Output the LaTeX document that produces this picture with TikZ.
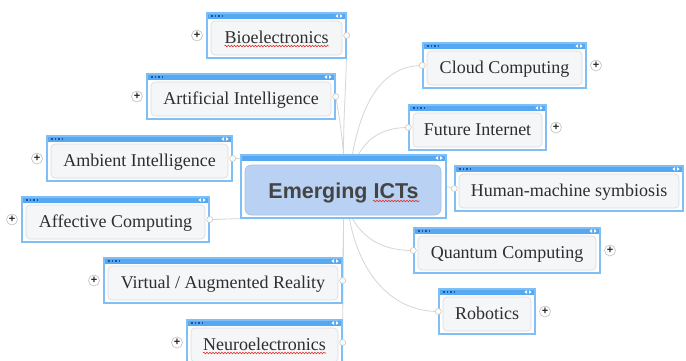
\documentclass[tikz,border=0pt]{standalone}
\usepackage{fontspec}
\setmainfont{Liberation Serif}
\setsansfont{Liberation Sans}
\usetikzlibrary{positioning,calc,backgrounds,decorations.pathmorphing}

\definecolor{framebl}{HTML}{80BFF6}
\definecolor{headbl}{HTML}{55A8F2}
\definecolor{dotbl}{HTML}{1B4FA8}
\definecolor{innerfill}{HTML}{F5F6F8}
\definecolor{innerdraw}{HTML}{DADBDF}
\definecolor{hubfill}{HTML}{B9D1F2}
\definecolor{hubdraw}{HTML}{A6C1EA}
\definecolor{textgray}{HTML}{2E2E2E}
\definecolor{hubtext}{HTML}{444444}
\definecolor{linkgray}{HTML}{D6D6D6}
\definecolor{spellred}{HTML}{E0302A}

\begin{document}
\begin{tikzpicture}[x=1pt, y=-1pt,
    topic/.style={rectangle, draw=framebl, line width=1.4pt, fill=white,
      minimum height=45pt, inner sep=0pt, text=textgray,
      font=\fontsize{18}{20}\selectfont, text height=16pt, text depth=1pt,
      path picture={
        \fill[headbl] (path picture bounding box.north west) rectangle ([yshift=-6pt]path picture bounding box.north east);
        \draw[line width=0.6pt, draw=innerdraw, fill=innerfill, rounded corners=4pt]
          ([shift={(4pt,-8pt)}]path picture bounding box.north west) rectangle ([shift={(-4pt,3pt)}]path picture bounding box.south east);
        \foreach \d in {4,7.5,11,14.5}
          \fill[dotbl] ([shift={(\d pt,-2pt)}]path picture bounding box.north west) rectangle +(1.6pt,-1.6pt);
        \fill[white] ([shift={(-8pt,-1.2pt)}]path picture bounding box.north east) -- ++(0pt,-3.6pt) -- ++(-2.6pt,1.8pt) -- cycle;
        \fill[white] ([shift={(-6pt,-1.2pt)}]path picture bounding box.north east) -- ++(0pt,-3.6pt) -- ++(2.6pt,1.8pt) -- cycle;
      }},
    hub/.style={rectangle, draw=framebl, line width=1.4pt, fill=white,
      minimum width=205pt, minimum height=63pt, inner sep=0pt, text=hubtext,
      font=\sffamily\bfseries\fontsize{21.5}{24}\selectfont, text height=24pt, text depth=0pt,
      path picture={
        \fill[headbl] (path picture bounding box.north west) rectangle ([yshift=-6pt]path picture bounding box.north east);
        \draw[line width=0.6pt, draw=hubdraw, fill=hubfill, rounded corners=6pt]
          ([shift={(4pt,-10pt)}]path picture bounding box.north west) rectangle ([shift={(-5pt,3pt)}]path picture bounding box.south east);
        \fill[white] ([shift={(-8pt,-1.2pt)}]path picture bounding box.north east) -- ++(0pt,-3.6pt) -- ++(-2.6pt,1.8pt) -- cycle;
        \fill[white] ([shift={(-6pt,-1.2pt)}]path picture bounding box.north east) -- ++(0pt,-3.6pt) -- ++(2.6pt,1.8pt) -- cycle;
      }},
    plusmark/.style={circle, draw=black!25, fill=white, line width=0.6pt, minimum size=11pt,
      inner sep=0pt, text=black!85, font=\sffamily\bfseries\fontsize{11}{11}\selectfont},
    linkdot/.style={circle, draw=black!22, fill=white, line width=0.6pt, minimum size=6pt,
      inner sep=0pt, anchor=center},
    leftside/.style={topic, label={[plusmark, label distance=3.5pt]west:+}, label={[linkdot]east:{}}},
    rightside/.style={topic, label={[plusmark, label distance=3.5pt]east:+}, label={[linkdot]west:{}}},
    link/.style={draw=linkgray, line width=0.8pt},
    squiggle/.style={draw=spellred, line width=0.6pt, decorate,
      decoration={snake, segment length=3pt, amplitude=0.8pt}}]

    \useasboundingbox (0,0) rectangle (686,360);

    % Central topic
    \node[hub] (hub) at (343.5,186.5) {Emerging ICTs};

    % Left branch
    \node[leftside, minimum width=139pt] (bio) at (276.5,35.5) {Bioelectronics};
    \node[leftside, minimum width=188pt] (ai) at (241,96.5) {Artificial Intelligence};
    \node[leftside, minimum width=185pt] (amb) at (139.5,158.5) {Ambient Intelligence};
    \node[leftside, minimum width=187pt] (aff) at (115.5,219.5) {Affective Computing};
    \node[leftside, minimum width=238pt] (vr) at (223,280.5) {Virtual / Augmented Reality};
    \node[leftside, minimum width=155pt] (neuro) at (264.5,342.5) {Neuroelectronics};

    % Right branch
    \node[rightside, minimum width=163pt] (cloud) at (504.5,65.5) {Cloud Computing};
    \node[rightside, minimum width=137pt] (fi) at (477.5,127.5) {Future Internet};
    \node[topic, minimum width=228pt, label={[plusmark, label distance=3.5pt]east:{}}, label={[linkdot]west:{}}] (hms) at (569,188.5) {Human-machine symbiosis};
    \node[rightside, minimum width=186pt] (qc) at (507,250.5) {Quantum Computing};
    \node[rightside, minimum width=96pt] (rob) at (487,311.5) {Robotics};

    % spell-check marks
    \draw[squiggle] ([shift={(-52pt,-10.5pt)}]bio.center) -- ([shift={(52pt,-10.5pt)}]bio.center);
    \draw[squiggle] ([shift={(-61.5pt,-10.5pt)}]neuro.center) -- ([shift={(61.5pt,-10.5pt)}]neuro.center);
    \draw[squiggle] ([shift={(29.5pt,-14.5pt)}]hub.center) -- ([shift={(76pt,-14.5pt)}]hub.center);

    % Connectors
    \begin{scope}[on background layer]
        \fill[white] (0,0) rectangle (686,360);
        \draw[link] (bio.east) to[out=-90,in=90] (hub.north);
        \draw[link] (ai.east) to[out=-80,in=95] (hub.north);
        \draw[link] (amb.east) -- (amb.east -| hub.west);
        \draw[link] (aff.east) to[out=0,in=180] (hub.south west);
        \draw[link] (vr.east) to[out=90,in=-90] (hub.south);
        \draw[link] (neuro.east) to[out=90,in=-90] (hub.south);
        \draw[link] ([xshift=9pt]hub.north) to[out=80,in=180] (cloud.west);
        \draw[link] ([xshift=15pt]hub.north) to[out=60,in=180] (fi.west);
        \draw[link] (hub.east) -- (hms.west);
        \draw[link] ([xshift=9pt]hub.south) to[out=-60,in=180] (qc.west);
        \draw[link] ([xshift=6pt]hub.south) to[out=-80,in=180] (rob.west);
    \end{scope}

\end{tikzpicture}
\end{document}
